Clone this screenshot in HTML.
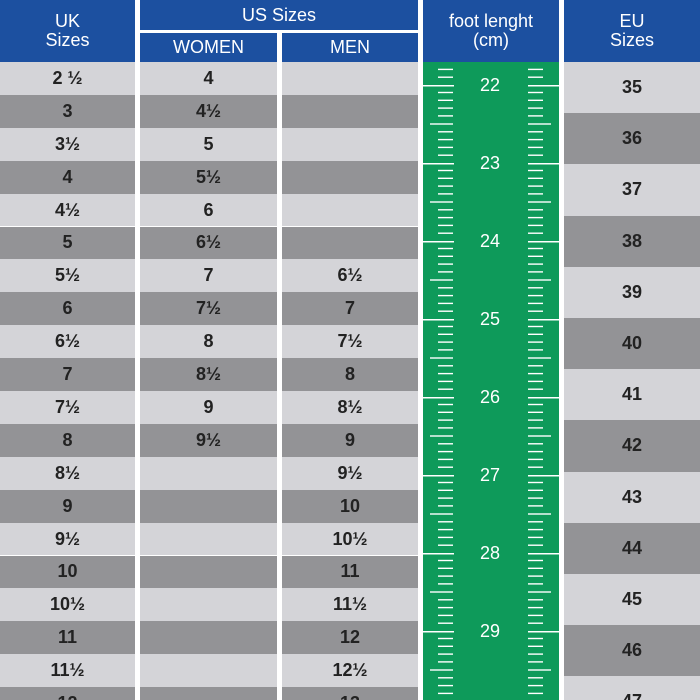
<!DOCTYPE html>
<html style="width:700px;height:700px;overflow:hidden"><head><meta charset="utf-8"><style>
body{margin:0;width:700px;height:700px;overflow:hidden;background:#fff;font-family:"Liberation Sans",Arial,sans-serif;position:relative}
.a{position:absolute}
.h{background:#1c50a0;color:#fff;text-align:center;font-size:18px;line-height:19px}
.r{position:absolute;text-align:center;font-weight:bold;font-size:18px;color:#222;display:flex;align-items:center;justify-content:center}
.l{background:#d4d4d8}.d{background:#939396}
</style></head><body>
<div class="a h" style="left:0;top:0;width:135px;height:62px;"><div style="padding-top:12px">UK<br>Sizes</div></div>
<div class="a h" style="left:140px;top:0;width:278px;height:30px;line-height:30px">US Sizes</div>
<div class="a h" style="left:140px;top:33px;width:137px;height:29px;line-height:29px">WOMEN</div>
<div class="a h" style="left:282px;top:33px;width:136px;height:29px;line-height:29px">MEN</div>
<div class="a h" style="left:423px;top:0;width:136px;height:62px;"><div style="padding-top:12px">foot lenght<br>(cm)</div></div>
<div class="a h" style="left:564px;top:0;width:136px;height:62px;"><div style="padding-top:12px">EU<br>Sizes</div></div>
<div id="rows"></div>
<svg class="a" style="left:423px;top:62px" width="136" height="638" viewBox="423 62 136 638">
<defs><pattern id="p" patternUnits="userSpaceOnUse" x="0" y="0" width="700" height="78" patternTransform="translate(0,85)">
<rect x="423" y="-1.5" width="31" height="3" fill="#fff"/><rect x="528" y="-1.5" width="31" height="3" fill="#fff"/>
<g fill="#fff">
<rect x="438" y="6.8" width="15" height="1.4"/><rect x="528" y="6.8" width="15" height="1.4"/>
<rect x="438" y="14.6" width="15" height="1.4"/><rect x="528" y="14.6" width="15" height="1.4"/>
<rect x="438" y="22.4" width="15" height="1.4"/><rect x="528" y="22.4" width="15" height="1.4"/>
<rect x="438" y="30.2" width="15" height="1.4"/><rect x="528" y="30.2" width="15" height="1.4"/>
<rect x="430" y="38.3" width="23" height="1.4"/><rect x="528" y="38.3" width="23" height="1.4"/>
<rect x="438" y="46.1" width="15" height="1.4"/><rect x="528" y="46.1" width="15" height="1.4"/>
<rect x="438" y="53.9" width="15" height="1.4"/><rect x="528" y="53.9" width="15" height="1.4"/>
<rect x="438" y="61.7" width="15" height="1.4"/><rect x="528" y="61.7" width="15" height="1.4"/>
<rect x="438" y="69.5" width="15" height="1.4"/><rect x="528" y="69.5" width="15" height="1.4"/>
</g></pattern></defs>
<rect x="423" y="62" width="136" height="638" fill="#0e9a5a"/>
<rect x="423" y="66" width="136" height="634" fill="url(#p)"/>
<g fill="#fff" font-size="18" text-anchor="middle" font-family="Liberation Sans,Arial,sans-serif">
<text x="490" y="91">22</text><text x="490" y="169">23</text><text x="490" y="247">24</text><text x="490" y="325">25</text><text x="490" y="403">26</text><text x="490" y="481">27</text><text x="490" y="559">28</text><text x="490" y="637">29</text>
</g></svg>
<script>
var uk=["2 ½","3","3½","4","4½","5","5½","6","6½","7","7½","8","8½","9","9½","10","10½","11","11½","12"];
var w=["4","4½","5","5½","6","6½","7","7½","8","8½","9","9½","","","","","","","",""];
var m=["","","","","","","6½","7","7½","8","8½","9","9½","10","10½","11","11½","12","12½","13"];
var h="";
for(var i=0;i<20;i++){var t=62+i*32.9,c=i%2?"d":"l",hh=Math.min(32.9,700-t);
h+='<div class="r '+c+'" style="left:0;top:'+t+'px;width:135px;height:32.9px">'+uk[i]+'</div>';
h+='<div class="r '+c+'" style="left:140px;top:'+t+'px;width:137px;height:32.9px">'+w[i]+'</div>';
h+='<div class="r '+c+'" style="left:282px;top:'+t+'px;width:136px;height:32.9px">'+m[i]+'</div>';}
for(var j=0;j<13;j++){var t=62+j*51.2,c=j%2?"d":"l";
h+='<div class="r '+c+'" style="left:564px;top:'+t+'px;width:136px;height:51.2px">'+(35+j)+'</div>';}
document.getElementById("rows").innerHTML=h;
</script>
</body></html>
